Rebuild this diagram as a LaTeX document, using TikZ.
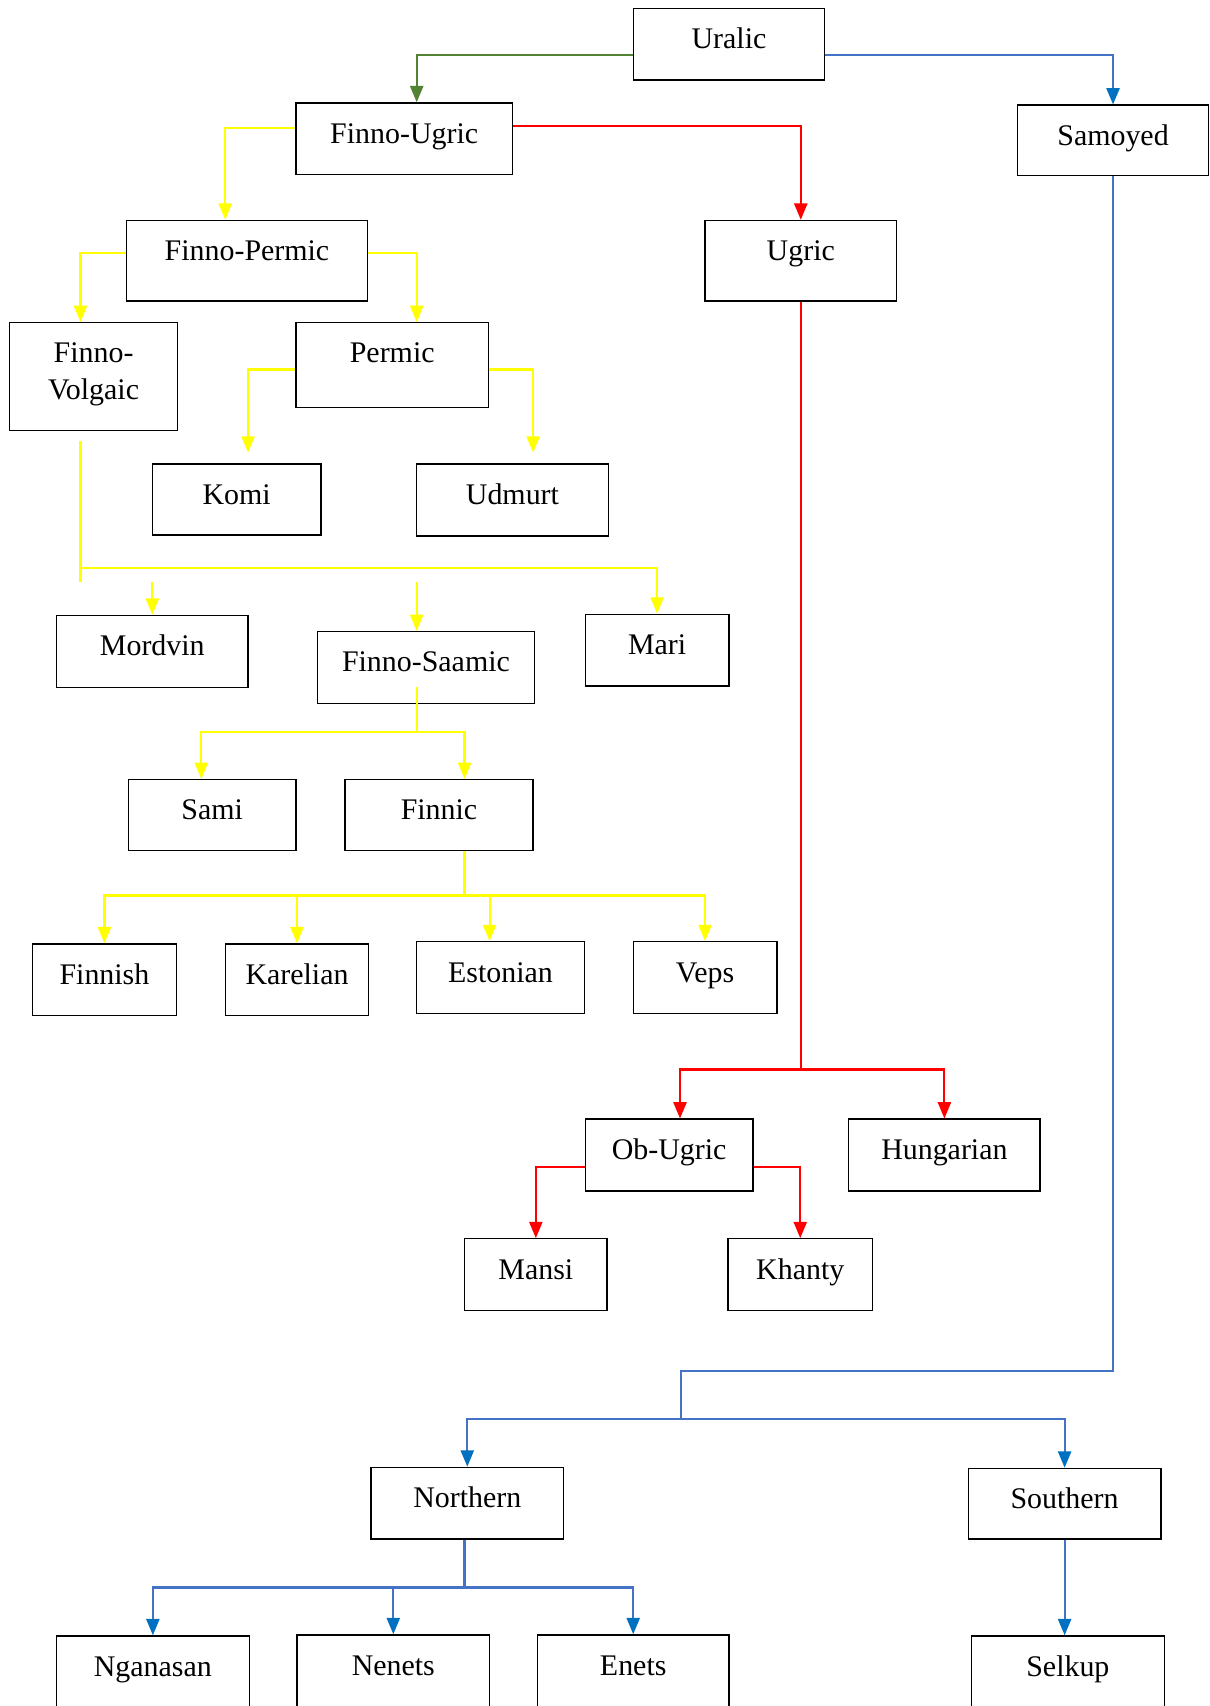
\documentclass[tikz,border=0pt]{standalone}
\usepackage{fontspec}
\setmainfont{Liberation Serif}
\usetikzlibrary{arrows.meta}
\definecolor{ugreen}{HTML}{548235}
\definecolor{ublue}{HTML}{4472C4}
\definecolor{tipblue}{HTML}{0070C0}
\definecolor{ured}{HTML}{FF0000}
\definecolor{uyellow}{HTML}{FFFF00}

\begin{document}
\begin{tikzpicture}[x=1pt,y=-1pt,
    lang/.style={draw,line width=1.2pt,anchor=north,inner sep=0pt,text height=37pt,text depth=29pt,font=\fontsize{27.5}{34}\selectfont},
    link/.style={line width=2pt},
    tip/.style={-{Triangle[length=15pt,width=12pt]}},
    bluetip/.style={-{Triangle[length=15pt,width=12pt,color=tipblue]}}]
    \useasboundingbox (0,0) rectangle (1112,1568);
    % language boxes
    \node[lang,minimum width=176pt] (U) at (670,7) {Uralic};
    \node[lang,minimum width=199pt] (FU) at (371.5,94) {Finno-Ugric};
    \node[lang,minimum width=176pt,text depth=28pt] (S) at (1023,96) {Samoyed};
    \node[lang,minimum width=222pt,text depth=37pt] (FP) at (227,202) {Finno-Permic};
    \node[lang,minimum width=176pt,text depth=37pt] (Ug) at (736,202) {Ugric};
    \node[lang,minimum width=154pt,text height=71pt,text depth=28pt,align=center] (FV) at (86,296) {Finno-\\Volgaic};
    \node[lang,minimum width=177pt,text depth=41pt] (P) at (360.5,296) {Permic};
    \node[lang,minimum width=155pt,text depth=28pt] (Ko) at (217.5,426) {Komi};
    \node[lang,minimum width=176pt] (Ud) at (471,426) {Udmurt};
    \node[lang,minimum width=176pt] (Mo) at (140,565) {Mordvin};
    \node[lang,minimum width=199pt] (FS) at (391.5,580) {Finno-Saamic};
    \node[lang,minimum width=132pt] (Ma) at (604,564) {Mari};
    \node[lang,minimum width=154pt,text depth=28pt] (Sa) at (195,716) {Sami};
    \node[lang,minimum width=173pt,text depth=28pt] (Fc) at (403.5,716) {Finnic};
    \node[lang,minimum width=132pt] (Fi) at (96,867) {Finnish};
    \node[lang,minimum width=132pt] (Ka) at (273,867) {Karelian};
    \node[lang,minimum width=154pt] (Es) at (460,865) {Estonian};
    \node[lang,minimum width=132pt] (Ve) at (648,865) {Veps};
    \node[lang,minimum width=154pt] (OU) at (615,1028) {Ob-Ugric};
    \node[lang,minimum width=176pt] (Hu) at (868,1028) {Hungarian};
    \node[lang,minimum width=131pt] (Mn) at (492.5,1138) {Mansi};
    \node[lang,minimum width=133pt] (Kh) at (735.5,1138) {Khanty};
    \node[lang,minimum width=177pt] (N) at (429.5,1348) {Northern};
    \node[lang,minimum width=177pt,text depth=28pt] (So) at (978.5,1349) {Southern};
    \node[lang,minimum width=177pt,text depth=33pt] (Ng) at (140.5,1503) {Nganasan};
    \node[lang,minimum width=177pt,text depth=34pt] (Ne) at (361.5,1502) {Nenets};
    \node[lang,minimum width=176pt,text depth=34pt] (En) at (582,1502) {Enets};
    \node[lang,minimum width=177pt,text depth=33pt] (Se) at (981.5,1503) {Selkup};
    % bends and forks
    \coordinate (fvend) at (74,535);
    \coordinate (fvbus) at (74,522);
    \coordinate (mo) at (140,535);
    \coordinate (fs) at (383,535);
    \coordinate (fsbus) at (383,673);
    \coordinate (fcbus) at (427,823);
    \coordinate (ugbus) at (736,983);
    \coordinate (sbend) at (626,1260);
    \coordinate (sbus) at (626,1304);
    \coordinate (nbus) at (427,1459);
    % Uralic
    \draw[link,ugreen,tip] ([yshift=-10pt]U.west) -| ([xshift=11.5pt]FU.north);
    \draw[link,ublue,bluetip] ([yshift=-10pt]U.east) -| (S.north);
    % Finno-Ugric
    \draw[link,uyellow,tip] ([yshift=10pt]FU.west) -| ([xshift=-20pt]FP.north);
    \draw[link,ured,tip] ([yshift=12pt]FU.east) -| (Ug.north);
    \draw[link,uyellow,tip] ([yshift=7pt]FP.west) -| ([xshift=-12pt]FV.north);
    \draw[link,uyellow,tip] ([yshift=7pt]FP.east) -| ([xshift=22.5pt]P.north);
    \draw[link,uyellow,tip] ([yshift=-4pt]P.west) -| ([shift={(10.5pt,10pt)}]Ko.north);
    \draw[link,uyellow,tip] ([yshift=-4pt]P.east) -| ([shift={(19pt,10pt)}]Ud.north);
    \draw[link,uyellow] ([shift={(-12pt,-9pt)}]FV.south) -- (fvend);
    \draw[link,uyellow,tip] (fvbus) -| (Ma.north);
    \draw[link,uyellow,tip] (mo) -- (mo |- Mo.north);
    \draw[link,uyellow,tip] (fs) -- (fs |- FS.north);
    \draw[link,uyellow] ([yshift=16pt]fsbus |- FS.south) -- (fsbus);
    \draw[link,uyellow,tip] (fsbus) -| ([xshift=-10pt]Sa.north);
    \draw[link,uyellow,tip] (fsbus) -| ([xshift=23.5pt]Fc.north);
    \draw[link,uyellow] (fcbus |- Fc.south) -- (fcbus);
    \draw[link,uyellow,tip] (fcbus) -| (Fi.north);
    \draw[link,uyellow,tip] (fcbus) -| (Ka.north);
    \draw[link,uyellow,tip] (fcbus) -| ([xshift=-10pt]Es.north);
    \draw[link,uyellow,tip] (fcbus) -| (Ve.north);
    \draw[link,ured] (Ug.south) -- (ugbus);
    \draw[link,ured,tip] (ugbus) -| ([xshift=10pt]OU.north);
    \draw[link,ured,tip] (ugbus) -| (Hu.north);
    \draw[link,ured,tip] ([yshift=-11pt]OU.west) -| (Mn.north);
    \draw[link,ured,tip] ([yshift=-11pt]OU.east) -| (Kh.north);
    % Samoyed
    \draw[link,ublue] (S.south) |- (sbend) -- (sbus);
    \draw[link,ublue,bluetip] (sbus) -| (N.north);
    \draw[link,ublue,bluetip] (sbus) -| (So.north);
    \draw[link,ublue] (nbus |- N.south) -- (nbus);
    \draw[link,ublue,bluetip] (nbus) -| (Ng.north);
    \draw[link,ublue,bluetip] (nbus) -| (Ne.north);
    \draw[link,ublue,bluetip] (nbus) -| (En.north);
    \draw[link,ublue,bluetip] (So.south) -- (So.south |- Se.north);
\end{tikzpicture}
\end{document}
